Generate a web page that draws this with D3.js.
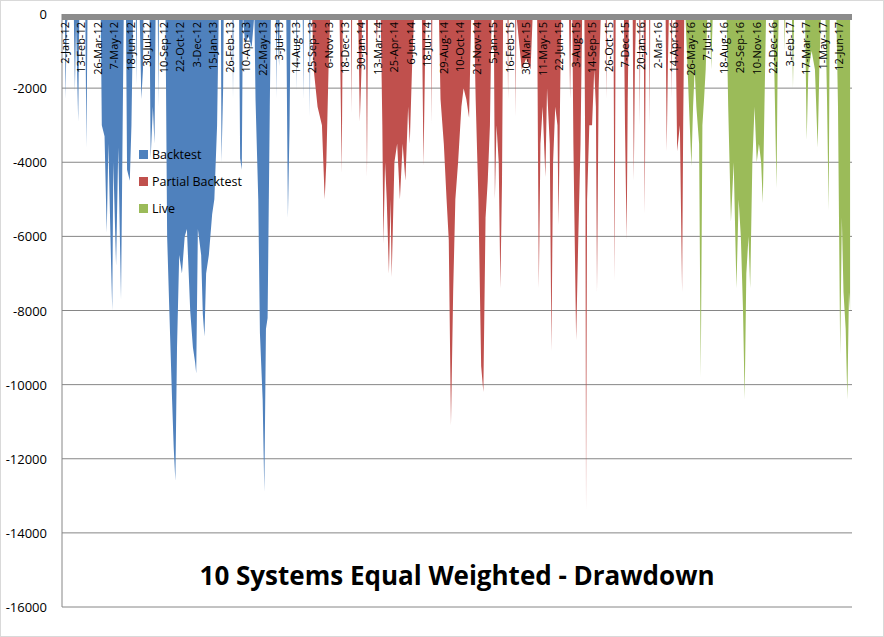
<!DOCTYPE html>
<html>
<head>
<meta charset="utf-8">
<script src="https://cdn.jsdelivr.net/npm/d3@7"></script>
<style>
  body { margin: 0; background: #fff; }
  text { font-family: "Open Sans", "Liberation Sans", sans-serif; }
</style>
</head>
<body>
<svg id="chart" width="884" height="637"></svg>
<script>
// trading-day index -> drawdown value
const backtest = [[0,-500],[1,-2300],[3,-300],[6,0],[16,0],[18,-2100],[20,-200],[24,-2900],[26,0],[37,0],[39,-3600],[41,0],
  [65,0],[67,-3000],[72,-3300],[76,-5900],[79,-3500],[84,-6800],[86,-8000],[88,-4000],[93,-6800],[97,-3600],[102,-7700],[105,-3000],[107,0],
  [111,0],[113,-4200],[118,-4500],[121,-3000],[124,0],[129,0],[130,-1900],[131,0],[136,0],[139,-2300],[142,-1500],[143,0],
  [154,0],[156,-3900],[160,-2500],[163,-3500],[165,0],[169,0],[170,-2500],[171,0],
  [183,0],[186,-6000],[190,-8000],[195,-10400],[198,-11700],[201,-12600],[204,-9000],[208,-6500],[213,-7000],[218,-6000],[222,-5800],
  [228,-8000],[233,-9000],[237,-9400],[239,-9700],[242,-5800],[248,-6500],[251,-8100],[254,-8700],[257,-7000],[262,-6500],[268,-5400],[272,-5000],[277,-3000],[280,0],
  [284,0],[285,-4000],[288,-2000],[289,0],[305,0],[306,-2300],[307,0],[317,0],[319,-3900],[322,-4200],[324,0],
  [328,-800],[334,-600],[340,-900],[345,0],[347,-2300],[352,-5000],[355,-8600],[360,-10400],[363,-12900],[366,-8500],[369,-8200],[373,-2500],[375,0],
  [384,0],[385,-2300],[386,0],[390,-1400],[391,0],[403,0],[406,-5500],[409,-3000],[411,0],[421,0],[422,-2100],[423,0],
  [433,0],[434,-2300],[435,0],[445,0],[446,-2800],[447,0],[450,0]];
const partial = [[450,0],[453,-1500],[460,-2500],[468,-3000],[473,-5000],[476,-4000],[480,-1500],[483,0],
  [500,0],[502,-2000],[504,-4300],[506,0],[521,0],[522,-2700],[523,0],[534,0],[537,-2900],[540,-1500],[541,0],[548,0],[550,-4400],[552,0],
  [566,0],[568,-800],[570,0],[575,0],[578,-3000],[580,-6200],[583,-4000],[586,-5000],[590,-7000],[593,-5000],[595,-7100],[600,-4000],[605,-3500],[610,-5000],[615,-3500],[620,-4500],[625,-2500],[628,-3500],[632,-1500],[636,0],
  [650,0],[653,-4100],[656,-1000],[657,0],[667,0],[668,-3000],[669,0],
  [681,0],[684,-2300],[690,-3500],[695,-5000],[699,-6100],[703,-11100],[707,-7500],[711,-5000],[716,-4000],[722,-2500],[726,-2000],[731,-2300],[736,-2800],[740,0],
  [745,0],[748,-2300],[753,-5000],[758,-9500],[762,-10200],[766,-5500],[770,-4500],[774,-3000],[777,0],
  [781,0],[783,-5000],[786,-3000],[790,-4000],[793,-7400],[796,-4500],[798,0],[806,0],[807,-2300],[808,0],[820,0],[821,-2800],[822,0],
  [832,-1500],[840,-1200],[848,-1500],[852,0],[860,0],[863,-7400],[866,-3500],[870,-2500],[875,-4400],[878,-2000],
  [883,-3500],[886,-9100],[889,-4000],[893,-2500],[897,-3000],[899,-5700],[902,-2000],[904,0],[918,0],[920,-2300],[922,0],
  [924,0],[926,-3500],[931,-8800],[935,-6000],[939,-3500],[942,0],[946,0],[948,-5000],[949,-13400],[951,-5000],[955,-3000],[960,-3000],[964,-1500],
  [967,-2500],[969,-7500],[972,-2000],[976,0],[985,0],[986,-2300],[987,0],[999,0],[1001,-7200],[1003,0],
  [1018,0],[1020,-3000],[1023,-6100],[1025,-2300],[1027,0],[1034,0],[1036,-4500],[1038,-1500],[1040,0],[1046,0],[1047,-3000],[1048,0],
  [1054,0],[1056,-5400],[1058,0],[1064,0],[1065,-3000],[1066,0],[1094,0],[1096,-3700],[1098,-1500],[1100,0],[1104,0],[1105,-2300],[1106,0],
  [1112,0],[1115,-3700],[1120,-3000],[1124,-7500],[1126,-3000],[1128,0],[1130,0]];
const live = [[1130,0],[1134,-1500],[1138,-3000],[1141,-4100],[1144,-2500],[1147,-1500],[1150,-2500],[1155,-3500],[1158,-9800],[1161,-3000],[1164,-2300],[1167,-1500],[1170,0],
  [1175,0],[1177,-1500],[1180,0],[1205,0],[1208,-2500],[1213,-5600],[1218,-4000],[1223,-7400],[1227,-5000],
  [1231,-6000],[1235,-8000],[1238,-10400],[1241,-7000],[1245,-6000],[1248,-7400],[1252,-4000],[1256,-2500],
  [1260,-4000],[1264,-3500],[1268,-4000],[1271,-5100],[1274,-2500],[1277,0],[1290,0],[1293,-2300],[1296,-4700],[1298,-1500],[1300,0],
  [1310,0],[1311,-1000],[1312,0],[1324,0],[1326,-2000],[1328,0],[1348,0],[1351,-3400],[1354,-1500],
  [1360,-1000],[1366,-1500],[1371,-3600],[1374,-1500],[1377,0],[1385,0],[1388,-2300],[1391,-5300],[1393,0],
  [1405,0],[1408,-2500],[1412,-9200],[1415,-5500],[1418,-7500],[1422,-8500],[1425,-10400],[1428,-7500],[1430,-8000]];
const seriesNames = ["Backtest", "Partial Backtest", "Live"];
const seriesColors = ["#4f81bd", "#c0504d", "#9bbb59"];
// one label every 30 trading days
const tickLabels = ["2-Jan-12","13-Feb-12","26-Mar-12","7-May-12","18-Jun-12","30-Jul-12","10-Sep-12","22-Oct-12","3-Dec-12",
  "15-Jan-13","26-Feb-13","10-Apr-13","22-May-13","3-Jul-13","14-Aug-13","25-Sep-13","6-Nov-13","18-Dec-13",
  "30-Jan-14","13-Mar-14","25-Apr-14","6-Jun-14","18-Jul-14","29-Aug-14","10-Oct-14","21-Nov-14",
  "5-Jan-15","16-Feb-15","30-Mar-15","11-May-15","22-Jun-15","3-Aug-15","14-Sep-15","26-Oct-15","7-Dec-15",
  "20-Jan-16","2-Mar-16","14-Apr-16","26-May-16","7-Jul-16","18-Aug-16","29-Sep-16","10-Nov-16","22-Dec-16",
  "3-Feb-17","17-Mar-17","1-May-17","12-Jun-17"];
const yTicks = d3.range(0, -16001, -2000);

const svg = d3.select("#chart");
const pLeft = 62, pRight = 852, pTop = 14, pBottom = 607;

svg.append("rect").attr("x", 0.5).attr("y", 0.5).attr("width", 883).attr("height", 636)
  .attr("fill", "#fff").attr("stroke", "#d9d9d9");

const x = d3.scaleLinear().domain([-5.5, 1433.5]).range([pLeft, pRight]);
const y = d3.scaleLinear().domain([0, -16000]).range([pTop, pBottom]);

//Gridlines
svg.append("g").selectAll("line").data(yTicks.slice(1)).join("line")
  .attr("x1", pLeft).attr("x2", pRight).attr("y1", d => y(d)).attr("y2", d => y(d))
  .attr("stroke", "#868686").attr("stroke-width", 1);

svg.append("g").selectAll("text").data(yTicks).join("text")
  .attr("x", 47).attr("y", d => y(d) + 5).attr("text-anchor", "end")
  .attr("font-size", 13).attr("fill", "#000").text(d => d);

//Areas
const area = d3.area().x(d => x(d[0])).y0(y(0)).y1(d => y(d[1]));
[backtest, partial, live].forEach((s, i) => {
  svg.append("path").datum(s).attr("d", area).attr("fill", seriesColors[i]);
});

//Zero axis
svg.append("rect").attr("x", pLeft).attr("y", pTop).attr("width", pRight - pLeft).attr("height", 6).attr("fill", "#8c8c8c");
svg.append("line").attr("x1", pLeft).attr("x2", pLeft).attr("y1", pTop).attr("y2", pBottom).attr("stroke", "#868686");

svg.append("g").selectAll("text").data(tickLabels).join("text")
  .attr("transform", (d, i) => `translate(${x(i * 30) + 4},22) rotate(-90)`)
  .attr("text-anchor", "end").attr("font-size", 11).attr("fill", "#000").text(d => d);

//Legend
const lg = svg.append("g").attr("transform", "translate(139,150)");
seriesNames.forEach((n, i) => {
  lg.append("rect").attr("x", 0).attr("y", i * 27).attr("width", 9).attr("height", 9).attr("fill", seriesColors[i]);
  lg.append("text").attr("x", 13).attr("y", i * 27 + 9).attr("font-size", 12.5).text(n);
});

svg.append("text").attr("x", 457).attr("y", 585).attr("text-anchor", "middle")
  .attr("font-size", 26).attr("font-weight", "bold").text("10 Systems Equal Weighted - Drawdown");
</script>
</body>
</html>
